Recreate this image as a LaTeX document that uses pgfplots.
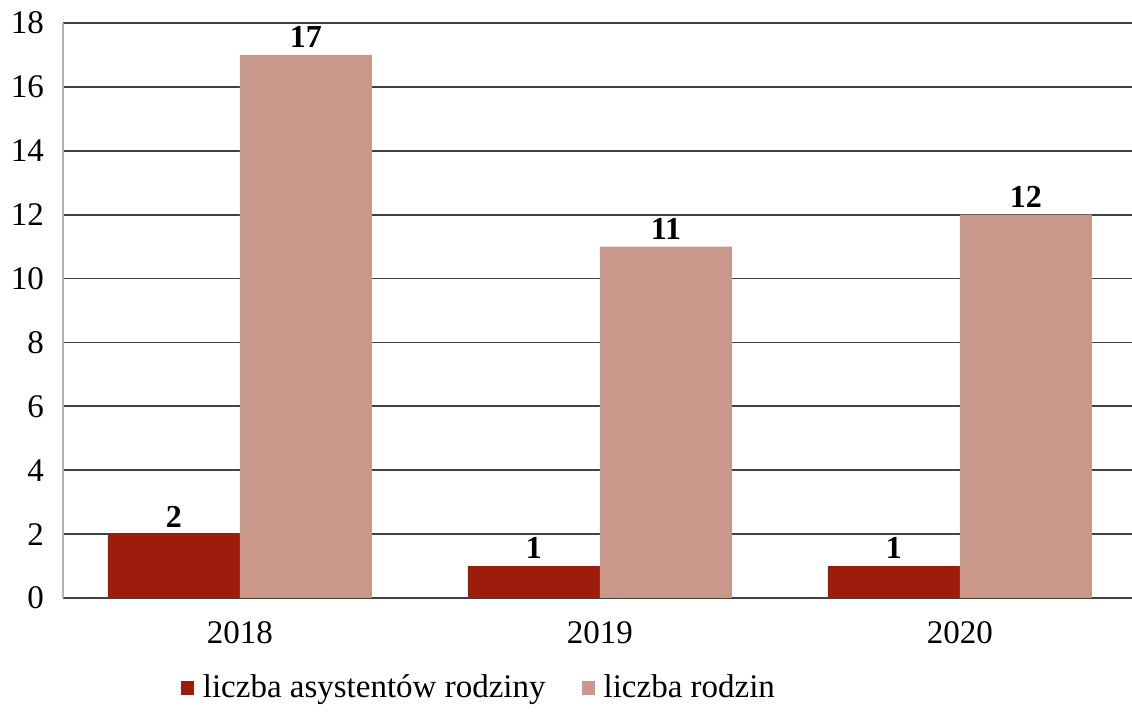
\documentclass[border=0pt]{standalone}
\usepackage{fontspec}
\setmainfont{Liberation Serif}
\usepackage{pgfplots}
\pgfplotsset{compat=1.18}

\definecolor{asyst}{RGB}{158,28,12}
\definecolor{rodz}{RGB}{201,152,138}

\begin{document}
\begin{tikzpicture}
  \begin{axis}[
      scale only axis,
      width=534.5pt, height=287.5pt,
      ybar=0pt, bar width=66pt,
      xmin=-0.4917, xmax=2.478,
      ymin=0, ymax=18,
      ytick={0,2,...,18},
      xtick=data,
      xticklabels={2018,2019,2020},
      major tick length=0pt,
      axis x line*=bottom,
      x axis line style={draw=none},
      axis y line*=left,
      y axis line style={draw=gray!60, line width=0.6pt},
      ymajorgrids,
      major grid style={draw=black!75, line width=0.9pt},
      tick label style={font=\fontsize{16.5}{18}\selectfont},
      /pgf/number format/assume math mode=true,
      yticklabel style={xshift=-6pt},
      xticklabel style={yshift=-8pt},
      nodes near coords,
      every node near coord/.append style={font=\bfseries\fontsize{16}{18}\selectfont, text=black},
      legend columns=2,
      legend style={draw=none, at={(rel axis cs:0.39,-0.1565)}, anchor=center,
        font=\fontsize{16.5}{18.5}\selectfont,
        /tikz/every even column/.append style={column sep=16pt}},
      legend image code/.code={\fill[#1] (0pt,-3.5pt) rectangle (6.5pt,3.5pt); \path (9pt,0pt);},
    ]
    \addplot[fill=asyst, draw=none] coordinates {(0,2) (1,1) (2,1)};
    \addplot[fill=rodz, draw=none] coordinates {(0,17) (1,11) (2,12)};
    \legend{liczba asystentów rodziny, liczba rodzin}
    \coordinate (sw) at (rel axis cs:0,0);
    \coordinate (ne) at (rel axis cs:1,1);
  \end{axis}
  \pgfresetboundingbox
  \path ([xshift=-31.5pt,yshift=-61.5pt]sw) rectangle ([yshift=11.5pt]ne);
\end{tikzpicture}
\end{document}
